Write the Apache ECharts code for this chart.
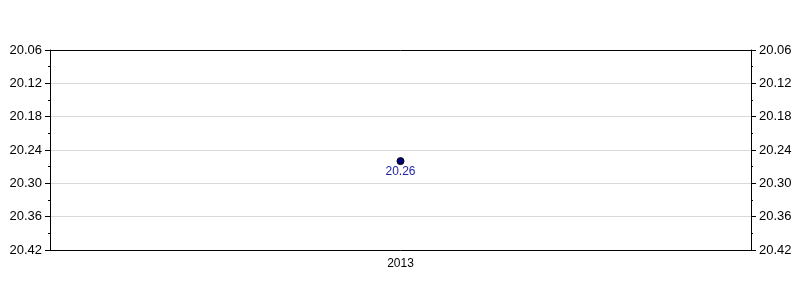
<!DOCTYPE html>
<html><head><meta charset="utf-8">
<script src="https://cdn.jsdelivr.net/npm/echarts@6/dist/echarts.min.js"></script>
<style>html,body{margin:0;padding:0;background:#fff}#c{width:800px;height:300px}</style>
</head><body><div id="c"></div>
<script>
const categories = ['2013'];
const values = [20.26];
const yMin = 20.06, yMax = 20.42, yStep = 0.06;

const font = 'Liberation Sans, Arial, sans-serif';
function yAxisDef(pos) {
  return {
    type: 'value', position: pos, inverse: true,
    min: yMin, max: yMax, interval: yStep,
    axisLine: { show: true, lineStyle: { color: '#000', width: 1 } },
    axisTick: { show: true, length: 5, lineStyle: { color: '#000' } },
    minorTick: { show: true, splitNumber: 2, length: 2, lineStyle: { color: '#000' } },
    axisLabel: { color: '#000', fontFamily: font, fontSize: 13, margin: 8,
      formatter: v => v.toFixed(2) },
    splitLine: { show: pos === 'left', lineStyle: { color: '#d9d9d9', width: 1 } }
  };
}
const chart = echarts.init(document.getElementById('c'), null, { renderer: 'canvas' });
chart.setOption({
  animation: false,
  grid: { left: 50, right: 49, top: 50, bottom: 50 },
  xAxis: [{
    type: 'category', data: categories, boundaryGap: true,
    axisLine: { lineStyle: { color: '#000' } },
    axisTick: { alignWithLabel: true, length: 5, lineStyle: { color: '#000' } },
    axisLabel: { color: '#000', fontFamily: font, fontSize: 12, margin: 8 }
  }, {
    type: 'category', data: categories, position: 'top',
    axisLine: { show: true, lineStyle: { color: '#000' } },
    axisTick: { show: false }, axisLabel: { show: false }, splitLine: { show: false }
  }],
  yAxis: [yAxisDef('left'), yAxisDef('right')],
  series: [{
    type: 'line', data: values, yAxisIndex: 0, xAxisIndex: 0,
    symbol: 'circle', symbolSize: 7,
    itemStyle: { color: '#000080', borderColor: '#000', borderWidth: 1 },
    label: { show: true, position: 'bottom', distance: 1, color: '#2424aa', fontFamily: font, fontSize: 12,
      formatter: p => p.value.toFixed(2) }
  }]
});
</script></body></html>
